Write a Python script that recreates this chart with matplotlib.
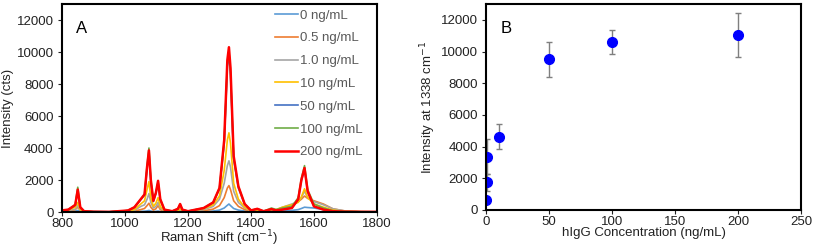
import numpy as np
import matplotlib.pyplot as plt

plt.rcParams['font.family'] = ['Liberation Sans', 'DejaVu Sans']

# ---- panel A: Raman spectra ----
shift = [800, 820, 835, 842, 850, 858, 870, 900, 950, 1000, 1010, 1030, 1050, 1062,
         1070, 1076, 1082, 1090, 1098, 1105, 1112, 1125, 1150, 1168, 1175, 1182, 1200,
         1250, 1280, 1300, 1315, 1325, 1330, 1335, 1345, 1360, 1380, 1400, 1420, 1440,
         1465, 1480, 1500, 1530, 1550, 1560, 1570, 1580, 1600, 1630, 1660, 1700, 1750, 1800]

s0 = [20, 30, 50, 60, 100, 50, 20, 10, 10, 10, 15, 20, 40, 50,
      70, 100, 60, 30, 40, 60, 30, 20, 10, 15, 30, 15, 10,
      30, 60, 120, 250, 420, 500, 400, 220, 120, 60, 30, 20, 15,
      30, 40, 60, 100, 150, 220, 300, 280, 250, 150, 60, 20, 10, 10]
s05 = [40, 60, 120, 150, 300, 100, 30, 10, 10, 20, 30, 60, 150, 220,
       400, 550, 300, 120, 200, 400, 150, 50, 20, 40, 100, 40, 20,
       80, 180, 400, 900, 1500, 1650, 1400, 700, 350, 150, 60, 60, 40,
       80, 120, 250, 450, 650, 800, 1000, 850, 700, 500, 200, 60, 20, 10]
s1 = [50, 80, 150, 180, 400, 120, 40, 10, 10, 30, 40, 100, 350, 450,
      800, 1150, 600, 250, 350, 600, 250, 60, 30, 60, 150, 60, 30,
      150, 350, 800, 1800, 2900, 3200, 2800, 1300, 600, 250, 80, 80, 50,
      100, 150, 300, 500, 650, 900, 1300, 900, 650, 450, 200, 60, 20, 10]
s10 = [60, 100, 250, 300, 600, 150, 40, 10, 10, 40, 60, 150, 500, 700,
       1400, 1900, 900, 350, 550, 900, 350, 80, 30, 80, 200, 80, 30,
       200, 450, 1000, 2600, 4500, 4950, 4300, 1800, 800, 300, 80, 100, 50,
       120, 150, 300, 450, 600, 950, 1450, 900, 500, 300, 120, 40, 15, 10]
s50 = [90, 140, 330, 420, 1350, 280, 50, 20, 10, 70, 90, 280, 780, 1050,
       2700, 3750, 1900, 650, 1150, 1850, 750, 140, 50, 180, 450, 140, 50,
       240, 580, 1450, 4300, 9100, 9800, 8600, 3300, 1500, 480, 100, 190, 50,
       170, 100, 150, 260, 800, 1950, 2700, 1250, 350, 150, 50, 20, 10, 10]
s100 = [100, 150, 350, 450, 1550, 300, 50, 20, 10, 80, 100, 300, 800, 1100,
        2900, 4000, 2000, 700, 1200, 1900, 800, 150, 50, 200, 480, 150, 50,
        250, 600, 1500, 4400, 9300, 10000, 8800, 3400, 1600, 500, 100, 200, 50,
        250, 150, 250, 350, 900, 2100, 2900, 1400, 500, 250, 80, 20, 10, 10]
s200 = [100, 150, 350, 450, 1400, 300, 50, 20, 10, 80, 100, 300, 800, 1100,
        2800, 3850, 2000, 700, 1200, 1950, 800, 150, 50, 200, 500, 150, 50,
        250, 600, 1500, 4500, 9500, 10300, 9000, 3500, 1600, 500, 100, 200, 50,
        180, 100, 150, 250, 800, 2000, 2750, 1300, 350, 150, 50, 20, 10, 10]

labels_a = ['0 ng/mL', '0.5 ng/mL', '1.0 ng/mL', '10 ng/mL', '50 ng/mL', '100 ng/mL', '200 ng/mL']
colors_a = ['#5B9BD5', '#ED7D31', '#A5A5A5', '#FFC000', '#4472C4', '#70AD47', '#FF0000']

# ---- panel B: calibration points ----
conc = [0, 0.5, 1.0, 10, 50, 100, 200]
inten = [650, 1750, 3350, 4620, 9520, 10620, 11060]
err = [150, 550, 1100, 780, 1100, 760, 1380]

fig = plt.figure(figsize=(8.17, 2.52), dpi=100)
axA = fig.add_axes([0.0759, 0.1587, 0.3855, 0.8253])
axB = fig.add_axes([0.5949, 0.1667, 0.3855, 0.8173])

spectra = [s0, s05, s1, s10, s50, s100, s200]
for i in range(len(spectra)):
    lw = 1.8 if i == 6 else 1.2
    axA.plot(shift, spectra[i], color=colors_a[i], lw=lw, label=labels_a[i])

axA.set_xlim(800, 1800)
axA.set_ylim(0, 13000)
axA.set_xticks(np.arange(800, 1801, 200))
axA.set_yticks(np.arange(0, 12001, 2000))
axA.set_xlabel('Raman Shift (cm$^{-1}$)', fontsize=9.5, color='#222222', labelpad=-1)
axA.set_ylabel('Intensity (cts)', fontsize=9.5, color='#222222', labelpad=2)
axA.text(0.045, 0.92, 'A', transform=axA.transAxes, fontsize=12, va='top')
leg = axA.legend(loc='upper right', frameon=False, fontsize=9.5, handlelength=1.7,
                 handletextpad=0.15, labelspacing=0.8, borderaxespad=0.0,
                 bbox_to_anchor=(0.97, 1.0))
for t in leg.get_texts():
    t.set_color('#595959')

axB.errorbar(conc, inten, yerr=err, fmt='o', color='#0000FF', ms=7,
             ecolor='#7F7F7F', elinewidth=1, capsize=2.5, capthick=1)
axB.set_xlim(0, 250)
axB.set_ylim(0, 13000)
axB.set_xticks(np.arange(0, 251, 50))
axB.set_yticks(np.arange(0, 12001, 2000))
axB.set_xlabel('hIgG Concentration (ng/mL)', fontsize=9.5, color='#222222', labelpad=-1)
axB.set_ylabel('Intensity at 1338 cm$^{-1}$', fontsize=9.5, color='#222222', labelpad=2)
axB.text(0.045, 0.92, 'B', transform=axB.transAxes, fontsize=12, va='top')

for ax in (axA, axB):
    for sp in ax.spines.values():
        sp.set_linewidth(1.5)
    ax.tick_params(labelsize=9.5, colors='#222222', length=3, width=0.8)
    ax.tick_params(axis='x', pad=1.5)
    ax.tick_params(axis='y', pad=3)

fig.savefig('out.png', dpi=100)
